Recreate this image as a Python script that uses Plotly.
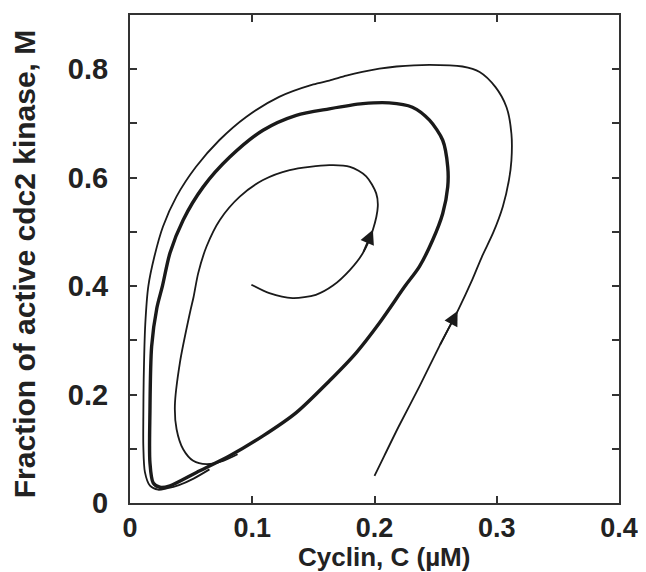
import plotly.graph_objects as go

# Outer trajectory (starts at C=0.2, M=0.05)
outer_c = [0.200, 0.208, 0.220, 0.237, 0.253, 0.268, 0.280, 0.288, 0.297, 0.305,
           0.310, 0.312, 0.312, 0.308, 0.299, 0.286, 0.272, 0.245, 0.218, 0.204,
           0.190, 0.177, 0.163, 0.150, 0.122, 0.095, 0.073, 0.054, 0.038, 0.027,
           0.020, 0.015, 0.0125, 0.0112, 0.0109, 0.0109, 0.0122, 0.0163, 0.023,
           0.030, 0.040, 0.052, 0.065]
outer_m = [0.050, 0.087, 0.142, 0.216, 0.289, 0.354, 0.412, 0.455, 0.498, 0.547,
           0.596, 0.632, 0.681, 0.730, 0.767, 0.795, 0.805, 0.808, 0.805, 0.801,
           0.795, 0.788, 0.779, 0.772, 0.749, 0.712, 0.669, 0.620, 0.565, 0.510,
           0.455, 0.400, 0.330, 0.228, 0.160, 0.105, 0.057, 0.032, 0.0245,
           0.027, 0.033, 0.045, 0.062]

# Limit cycle (thick)
cycle_c = [0.0245, 0.0327, 0.0544, 0.0816, 0.1088, 0.136, 0.163, 0.185, 0.204,
           0.225, 0.2367, 0.2476, 0.2558, 0.2599, 0.2599, 0.2558, 0.245, 0.231,
           0.212, 0.1905, 0.163, 0.136, 0.1088, 0.0816, 0.0599, 0.0435, 0.0327,
           0.0265, 0.022, 0.0177, 0.0163, 0.0163, 0.019, 0.0245]
cycle_m = [0.029, 0.0318, 0.0564, 0.087, 0.1238, 0.1667, 0.225, 0.277, 0.332,
           0.400, 0.436, 0.485, 0.534, 0.583, 0.620, 0.669, 0.706, 0.730,
           0.738, 0.7365, 0.727, 0.715, 0.6875, 0.638, 0.583, 0.522, 0.461,
           0.400, 0.360, 0.289, 0.1667, 0.0748, 0.0368, 0.029]

# Inner trajectory (starts at C=0.1, M=0.4)
inner_c = [0.0993, 0.114, 0.133, 0.152, 0.166, 0.180, 0.1905, 0.1987, 0.2027,
           0.2014, 0.1932, 0.180, 0.163, 0.1306, 0.1088, 0.0898, 0.0735, 0.0626,
           0.0558, 0.052, 0.049, 0.0408, 0.0367, 0.0381, 0.0435, 0.0517, 0.0626,
           0.0762, 0.088]
inner_m = [0.4026, 0.387, 0.378, 0.384, 0.401, 0.430, 0.461, 0.504, 0.547,
           0.571, 0.6025, 0.620, 0.623, 0.614, 0.5956, 0.565, 0.522, 0.473,
           0.424, 0.380, 0.3505, 0.2586, 0.179, 0.136, 0.099, 0.0778, 0.0717,
           0.0778, 0.090]

x_ticks = [0, 0.1, 0.2, 0.3, 0.4]
x_ticktext = ["0", "0.1", "0.2", "0.3", "0.4"]
y_ticks = [0, 0.1, 0.2, 0.3, 0.4, 0.5, 0.6, 0.7, 0.8]
y_ticktext = ["0", "", "0.2", "", "0.4", "", "0.6", "", "0.8"]

ink = "#1a1a1a"
fig = go.Figure()
fig.add_trace(go.Scatter(x=outer_c, y=outer_m, mode="lines",
                         line=dict(color=ink, width=1.8, shape="spline", smoothing=0.8)))
fig.add_trace(go.Scatter(x=cycle_c, y=cycle_m, mode="lines",
                         line=dict(color=ink, width=3.4, shape="spline", smoothing=0.8)))
fig.add_trace(go.Scatter(x=inner_c, y=inner_m, mode="lines",
                         line=dict(color=ink, width=1.8, shape="spline", smoothing=0.8)))

# arrowheads along the trajectories
for cs, ms, i in [(outer_c, outer_m, 5), (inner_c, inner_m, 7)]:
    fig.add_annotation(x=cs[i], y=ms[i], ax=cs[i - 1], ay=ms[i - 1],
                       xref="x", yref="y", axref="x", ayref="y", text="",
                       showarrow=True, arrowhead=2, arrowsize=1.6, arrowwidth=1.8,
                       arrowcolor=ink)

font = "Liberation Sans, Arial, sans-serif"
axis_common = dict(showline=True, linecolor="#333", linewidth=2, mirror="ticks",
                   ticks="inside", ticklen=7, tickwidth=2, tickcolor="#333",
                   showgrid=False, zeroline=False)
fig.update_xaxes(range=[0, 0.4], tickvals=x_ticks, ticktext=x_ticktext,
                 ticklabelstandoff=0,
                 tickfont=dict(family=font, size=27, color="#222", weight="bold"),
                 **axis_common)
fig.update_yaxes(range=[0, 0.9], tickvals=y_ticks, ticktext=y_ticktext,
                 ticklabelstandoff=14,
                 tickfont=dict(family=font, size=29, color="#222", weight="bold"),
                 **axis_common)

fig.add_annotation(text="Cyclin, C (\u00b5M)", xref="paper", yref="paper",
                   x=0.519, y=-0.11, xanchor="center", yanchor="middle", showarrow=False,
                   font=dict(family=font, size=26, color="#222", weight="bold"))
fig.add_annotation(text="Fraction of active cdc2 kinase, M", xref="paper", yref="paper",
                   x=-0.214, y=0.49, xanchor="center", yanchor="middle", textangle=-90,
                   showarrow=False,
                   font=dict(family=font, size=30, color="#222", weight="bold"))

# page body has an 8px margin: shrink the figure so the plot box lands where the reference has it
fig.update_layout(width=638, height=564, margin=dict(l=122, r=27, t=5, b=69),
                  paper_bgcolor="white", plot_bgcolor="white", showlegend=False)
fig.write_html("out.html")
